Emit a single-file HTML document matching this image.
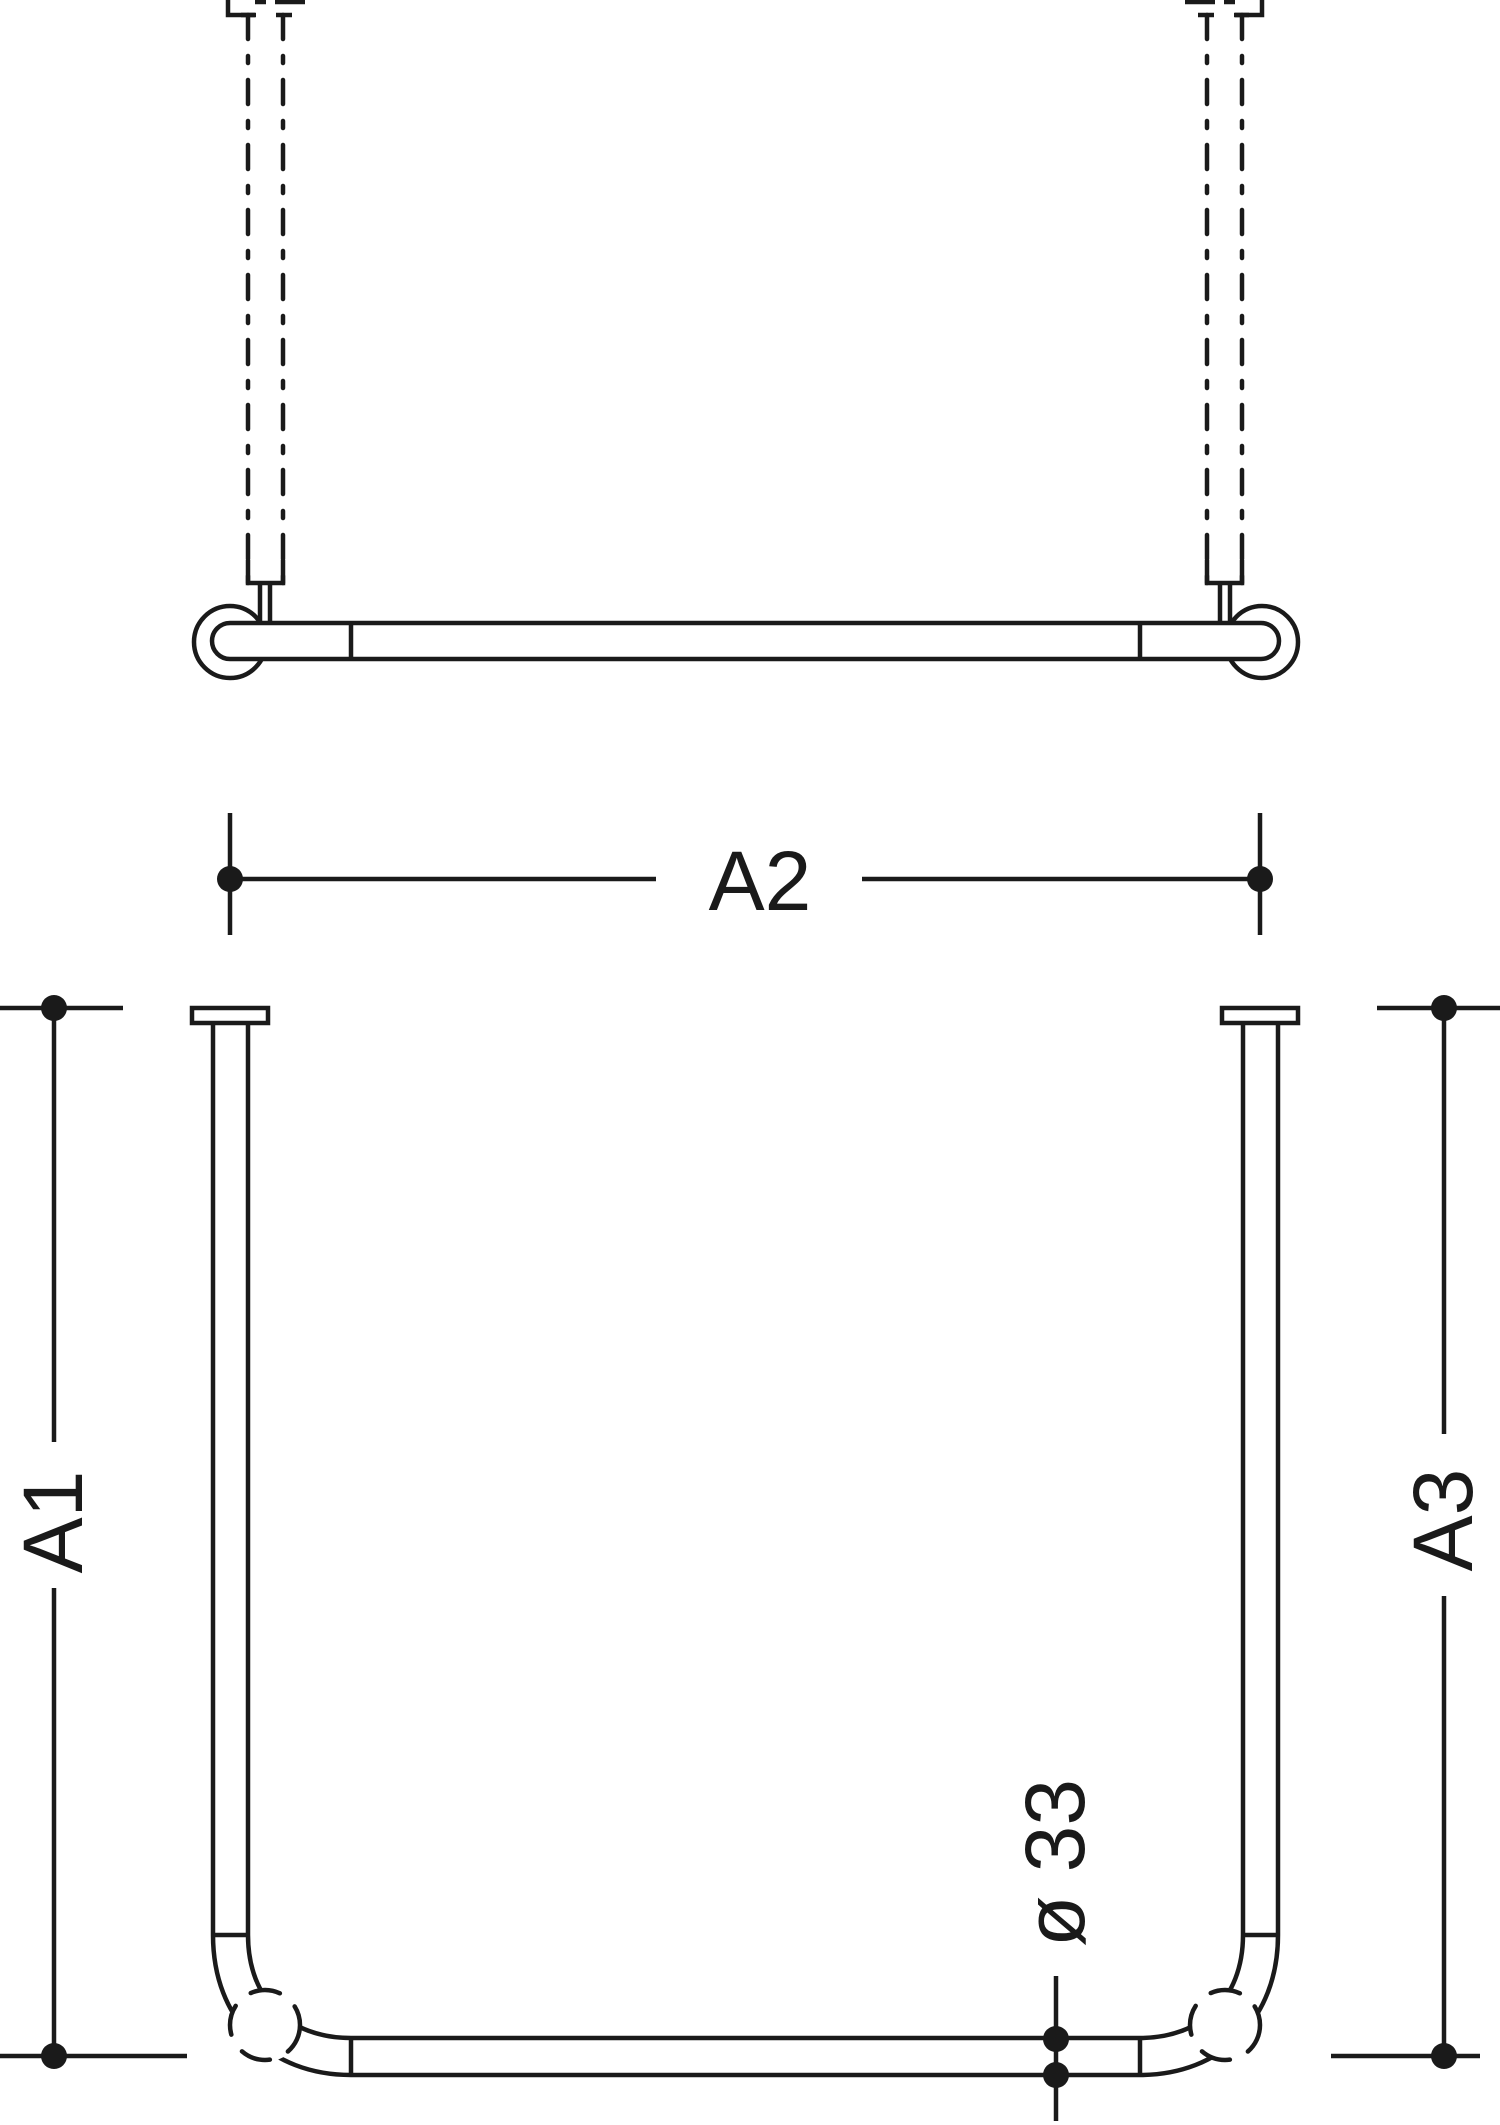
<!DOCTYPE html>
<html><head><style>html,body{margin:0;padding:0;background:#fff}svg{display:block}</style></head>
<body>
<svg width="1500" height="2125" viewBox="0 0 1500 2125" xmlns="http://www.w3.org/2000/svg">
<g fill="none" stroke="#1a1a1a" stroke-width="4.5">
<g id="topL">
<path d="M228,0 V15 H255 M255,2 H266 M275,2 H305"/>
<path d="M241,15 H256 M276,15 H292"/>
<path d="M248,15 V583 M283,15 V583" stroke-dasharray="24,17,7,17" stroke-linecap="round"/>
<path d="M248,560 V583 H283 V560"/>
<path d="M260,583 V623 M270,583 V623"/>
</g>
<g transform="translate(1490,0) scale(-1,1)">
<path d="M228,0 V15 H255 M255,2 H266 M275,2 H305"/>
<path d="M241,15 H256 M276,15 H292"/>
<path d="M248,15 V583 M283,15 V583" stroke-dasharray="24,17,7,17" stroke-linecap="round"/>
<path d="M248,560 V583 H283 V560"/>
<path d="M260,583 V623 M270,583 V623"/>
</g>
<circle cx="230" cy="642" r="36"/>
<circle cx="1262" cy="642" r="36"/>
<rect x="212" y="623" width="1066" height="36" fill="#fff" stroke="none"/>
<path d="M230,623 H1261 A18,18 0 0 1 1261,659 H230 A18,18 0 0 1 230,623 Z"/>
<path d="M351,623 V659 M1140,623 V659"/>

<path d="M230,813 V935 M1260,813 V935 M230,879 H656 M862,879 H1260"/>

<rect x="192" y="1008" width="76" height="15"/>
<rect x="1222" y="1008" width="76" height="15"/>
<path d="M213,1023 V1935 M248,1023 V1935 M213,1935 H248"/>
<path d="M1243,1023 V1935 M1278,1023 V1935 M1243,1935 H1278"/>
<path d="M351,2038 H1140 M351,2075 H1140 M351,2038 V2075 M1140,2038 V2075"/>
<path d="M213,1935 C213,2020 270,2075 351,2075 M248,1935 C248,2000 290,2038 351,2038"/>
<path d="M1278,1935 C1278,2020 1220,2075 1140,2075 M1243,1935 C1243,2000 1200,2038 1140,2038"/>
<circle cx="265" cy="2025" r="37" fill="#fff" stroke="none"/>
<circle cx="1225" cy="2025" r="37" fill="#fff" stroke="none"/>
<circle cx="265" cy="2025" r="35" stroke-dasharray="30,20" stroke-linecap="round"/>
<circle cx="1225" cy="2025" r="35" stroke-dasharray="30,20" stroke-linecap="round"/>

<path d="M0,1008 H123 M0,2056 H187 M54,1008 V1442 M54,1588 V2056"/>
<path d="M1377,1008 H1500 M1331,2056 H1480 M1444,1008 V1434 M1444,1596 V2056"/>
<path d="M1056,1976 V2121"/>
</g>
<g fill="#1a1a1a">
<circle cx="230" cy="879" r="13"/><circle cx="1260" cy="879" r="13"/>
<circle cx="54" cy="1008" r="13"/><circle cx="54" cy="2056" r="13"/>
<circle cx="1444" cy="1008" r="13"/><circle cx="1444" cy="2056" r="13"/>
<circle cx="1056" cy="2039" r="13"/><circle cx="1056" cy="2075" r="13"/>
</g>
<g font-family="Liberation Sans, sans-serif" font-size="84" fill="#1a1a1a" text-anchor="middle">
<text x="760" y="910">A2</text>
<text transform="translate(82,1522) rotate(-90)">A1</text>
<text transform="translate(1472,1520) rotate(-90)">A3</text>
<text transform="translate(1084,1863) rotate(-90)">ø 33</text>
</g>
</svg>
</body></html>
